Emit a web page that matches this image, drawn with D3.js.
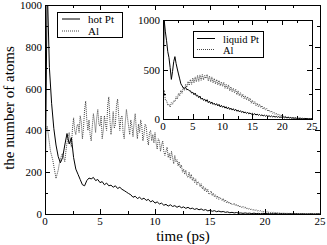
<!DOCTYPE html>
<html>
<head>
<meta charset="utf-8">
<script src="https://cdn.jsdelivr.net/npm/d3@7"></script>
<style>
  body { margin: 0; background: #fff; }
  svg { display: block; font-family: "Liberation Serif", "DejaVu Serif", serif; }
  .frame { fill: none; stroke: #000; stroke-width: 1; }
  .tick-mark { stroke: #000; stroke-width: 1; }
  .line { fill: none; stroke: #000; stroke-width: 1; }
  .line--dot { stroke-dasharray: 1, 1; stroke: #444; }
</style>
</head>
<body>
<div id="chart"></div>
<script>
// sampling steps (ps)
const STEP = 0.2;
const FINE_STEP = 0.1;

// main panel, hot Pt (solid), every 0.2 ps
const HOT_PT = [
    0, 1100, 700, 530, 410, 330, 275, 245, 270, 330,
    385, 335, 365, 270, 215, 190, 165, 140, 135, 160,
    172, 168, 175, 160, 165, 150, 155, 140, 148, 135,
    138, 128, 135, 122, 128, 118, 112, 105, 98, 92,
    80, 85, 74, 80, 70, 76, 65, 70, 58, 64,
    52, 58, 48, 52, 42, 46, 38, 44, 36, 40,
    32, 38, 30, 34, 27, 32, 25, 28, 22, 26,
    20, 24, 18, 21, 15, 18, 13, 16, 11, 14,
    10, 12, 8, 10, 6, 8, 5, 7, 4, 5,
    3, 5, 3, 4, 2, 4, 2, 3, 1, 3,
    2, 3, 1, 2, 1, 2, 0, 2, 1, 1,
    0, 1, 1, 0, 1, 0, 0, 1, 0, 0,
    0, 1, 0, 0, 1, 0
];

// main panel, Al (dotted), every 0.1 ps
const HOT_AL = [
    380, 400, 420, 380, 340, 300, 280, 260, 230, 200,
    170, 190, 210, 240, 260, 280, 290, 270, 250, 300,
    340, 370, 390, 350, 320, 410, 460, 400, 380, 420,
    430, 390, 470, 440, 360, 410, 500, 540, 450, 400,
    450, 380, 350, 420, 480, 440, 390, 460, 500, 430,
    420, 470, 360, 400, 470, 430, 400, 520, 560, 450,
    380, 430, 490, 410, 430, 520, 550, 470, 400, 460,
    470, 390, 360, 440, 500, 460, 420, 380, 450, 420,
    370, 440, 480, 410, 360, 430, 390, 450, 420, 350,
    380, 430, 420, 360, 330, 390, 400, 350, 380, 340,
    390, 340, 310, 360, 350, 300, 330, 350, 300, 280,
    300, 320, 270, 290, 260, 300, 270, 240, 280, 250,
    260, 230, 250, 220, 235, 200, 215, 190, 210, 180,
    175, 200, 170, 190, 160, 175, 150, 168, 140, 155,
    150, 130, 145, 120, 132, 110, 125, 105, 118, 95,
    98, 110, 88, 100, 82, 92, 75, 86, 70, 80,
    72, 64, 75, 58, 68, 54, 62, 50, 56, 46,
    50, 44, 52, 40, 46, 36, 42, 33, 38, 30,
    36, 28, 34, 25, 30, 22, 27, 20, 24, 18,
    22, 16, 20, 14, 18, 12, 16, 11, 14, 10,
    13, 9, 12, 8, 10, 7, 9, 6, 8, 5,
    7, 5, 6, 4, 6, 3, 5, 3, 4, 2,
    4, 2, 3, 2, 3, 1, 3, 1, 2, 1,
    2, 1, 2, 0, 1, 1, 2, 0, 1, 0,
    1, 0, 1, 1, 0, 1, 0, 1, 0, 0,
    1
];

// inset, liquid Pt (solid), every 0.2 ps
const LIQ_PT = [
    300, 1000, 880, 790, 680, 620, 520, 400, 480, 580,
    630, 560, 505, 455, 405, 355, 335, 315, 310, 320,
    295, 300, 285, 285, 262, 270, 245, 262, 232, 240,
    215, 232, 200, 212, 188, 200, 178, 195, 165, 180,
    155, 172, 148, 160, 140, 155, 132, 148, 122, 138,
    118, 132, 110, 124, 102, 118, 96, 110, 90, 104,
    84, 98, 78, 90, 72, 84, 66, 78, 60, 72,
    56, 68, 52, 62, 48, 58, 44, 54, 40, 50,
    37, 46, 34, 42, 31, 39, 28, 36, 25, 33,
    23, 31, 21, 28, 19, 26, 17, 24, 15, 22,
    14, 20, 12, 18, 11, 16, 10, 14, 9, 12,
    8, 11, 7, 10, 6, 9, 5, 7, 4, 6,
    4, 5, 3, 4, 2, 3
];

// inset, Al (dotted), every 0.2 ps
const LIQ_AL = [
    240, 290, 190, 185, 140, 150, 120, 165, 150, 185,
    175, 225, 200, 260, 235, 290, 260, 320, 290, 350,
    320, 380, 340, 400, 350, 415, 365, 425, 375, 440,
    380, 445, 390, 450, 395, 440, 410, 450, 385, 435,
    375, 425, 365, 410, 355, 400, 345, 390, 335, 375,
    330, 370, 310, 350, 305, 345, 285, 325, 275, 310,
    265, 300, 245, 285, 235, 265, 220, 250, 205, 235,
    195, 225, 180, 210, 160, 190, 150, 175, 135, 160,
    125, 150, 115, 135, 100, 120, 90, 105, 78, 92,
    68, 82, 58, 70, 48, 60, 40, 50, 32, 42,
    26, 36, 20, 28, 15, 22, 11, 16, 8, 12,
    6, 10, 4, 7, 3, 6, 2, 5, 2, 3,
    1, 3, 1, 2, 1, 1
];

const X_TICKS = [0, 5, 10, 15, 20, 25];
const MAIN_Y_TICKS = [0, 200, 400, 600, 800, 1000];
const INSET_Y_TICKS = [0, 500, 1000];
const MAIN_LEGEND = ["hot Pt", "Al"];
const INSET_LEGEND = ["liquid Pt", "Al"];

const width = 327;
const height = 245;

const svg = d3.select("#chart")
    .append("svg")
    .attr("width", width)
    .attr("height", height);

const toPoints = (arr, step) => arr.map((v, i) => [i * step, v]);

/**
 * Draw one framed panel with inward ticks on all four sides
 */
function drawPanel(opt) {
    const x = d3.scaleLinear().domain([0, 25]).range([opt.left, opt.right]);
    const y = d3.scaleLinear().domain([0, 1000]).range([opt.bottom, opt.top]);
    const g = svg.append("g");

    g.append("rect")
        .attr("x", opt.left).attr("y", opt.top)
        .attr("width", opt.right - opt.left)
        .attr("height", opt.bottom - opt.top)
        .attr("fill", "#fff");

    const clipId = opt.id + "-clip";
    g.append("clipPath").attr("id", clipId)
      .append("rect")
        .attr("x", opt.left).attr("y", opt.top)
        .attr("width", opt.right - opt.left)
        .attr("height", opt.bottom - opt.top);

    const line = d3.line().x(d => x(d[0])).y(d => y(d[1]));
    const lines = g.append("g").attr("clip-path", `url(#${clipId})`);
    lines.append("path").datum(toPoints(opt.dotted, opt.dottedStep))
        .attr("class", "line line--dot").attr("d", line);
    lines.append("path").datum(toPoints(opt.solid, STEP))
        .attr("class", "line").attr("d", line);

    // ticks (major + minor) on every side, pointing inward
    const xMinor = d3.range(0, 25.01, 2.5);
    const yMinor = d3.range(0, 1000.1, opt.yMinor);
    const ticks = g.append("g");
    xMinor.forEach(t => {
        const len = X_TICKS.includes(t) ? opt.major : opt.minor;
        const px = Math.round(x(t)) + 0.5;
        ticks.append("line").attr("class", "tick-mark")
            .attr("x1", px).attr("x2", px)
            .attr("y1", opt.bottom).attr("y2", opt.bottom - len);
        ticks.append("line").attr("class", "tick-mark")
            .attr("x1", px).attr("x2", px)
            .attr("y1", opt.top).attr("y2", opt.top + len);
    });
    yMinor.forEach(t => {
        const len = opt.yTicks.includes(t) ? opt.major : opt.minor;
        const py = Math.round(y(t)) + 0.5;
        ticks.append("line").attr("class", "tick-mark")
            .attr("y1", py).attr("y2", py)
            .attr("x1", opt.left).attr("x2", opt.left + len);
        ticks.append("line").attr("class", "tick-mark")
            .attr("y1", py).attr("y2", py)
            .attr("x1", opt.right).attr("x2", opt.right - len);
    });

    g.append("rect").attr("class", "frame")
        .attr("x", opt.left + 0.5).attr("y", opt.top + 0.5)
        .attr("width", opt.right - opt.left)
        .attr("height", opt.bottom - opt.top);

    // tick labels
    g.append("g").selectAll("text")
        .data(X_TICKS)
      .enter().append("text")
        .attr("x", d => x(d))
        .attr("y", opt.bottom + opt.xLabelDy)
        .attr("text-anchor", "middle")
        .attr("font-size", opt.fontSize)
        .text(d => d);

    g.append("g").selectAll("text")
        .data(opt.yTicks)
      .enter().append("text")
        .attr("x", opt.left - 3)
        .attr("y", d => y(d) + 4)
        .attr("text-anchor", "end")
        .attr("font-size", opt.fontSize)
        .text(d => d);

    // legend
    const lg = opt.legend;
    g.append("rect")
        .attr("x", lg.x + 0.5).attr("y", lg.y + 0.5)
        .attr("width", lg.w).attr("height", lg.h)
        .attr("fill", "#fff").attr("stroke", "#000");
    opt.legendLabels.forEach((label, i) => {
        const ly = lg.y + lg.row0 + i * lg.rowGap;
        g.append("line")
            .attr("class", i === 0 ? "line" : "line line--dot")
            .attr("x1", lg.x + lg.lineX0).attr("x2", lg.x + lg.lineX1)
            .attr("y1", ly).attr("y2", ly);
        g.append("text")
            .attr("x", lg.x + lg.textX)
            .attr("y", ly + 4)
            .attr("font-size", lg.fontSize)
            .text(label);
    });
}

// Main panel
drawPanel({
    id: "main", left: 45, right: 320, top: 5, bottom: 214,
    solid: HOT_PT, dotted: HOT_AL, dottedStep: FINE_STEP,
    yTicks: MAIN_Y_TICKS, yMinor: 100, major: 5, minor: 3,
    fontSize: 11, xLabelDy: 11,
    legendLabels: MAIN_LEGEND,
    legend: { x: 57, y: 12, w: 65, h: 25, row0: 7, rowGap: 12,
              lineX0: 5, lineX1: 23, textX: 31, fontSize: 11 }
});

// Inset panel
drawPanel({
    id: "inset", left: 163, right: 312, top: 20, bottom: 119,
    solid: LIQ_PT, dotted: LIQ_AL, dottedStep: STEP,
    yTicks: INSET_Y_TICKS, yMinor: 250, major: 5, minor: 3,
    fontSize: 11, xLabelDy: 11,
    legendLabels: INSET_LEGEND,
    legend: { x: 193, y: 31, w: 70, h: 26, row0: 7.5, rowGap: 11,
              lineX0: 4, lineX1: 22, textX: 30, fontSize: 10.5 }
});

// Axis titles
svg.append("text")
    .attr("transform", "translate(14, 108) rotate(-90)")
    .attr("text-anchor", "middle")
    .attr("font-size", 15)
    .text("the number of atoms");

svg.append("text")
    .attr("x", 183)
    .attr("y", 241)
    .attr("text-anchor", "middle")
    .attr("font-size", 15)
    .text("time (ps)");
</script>
</body>
</html>
